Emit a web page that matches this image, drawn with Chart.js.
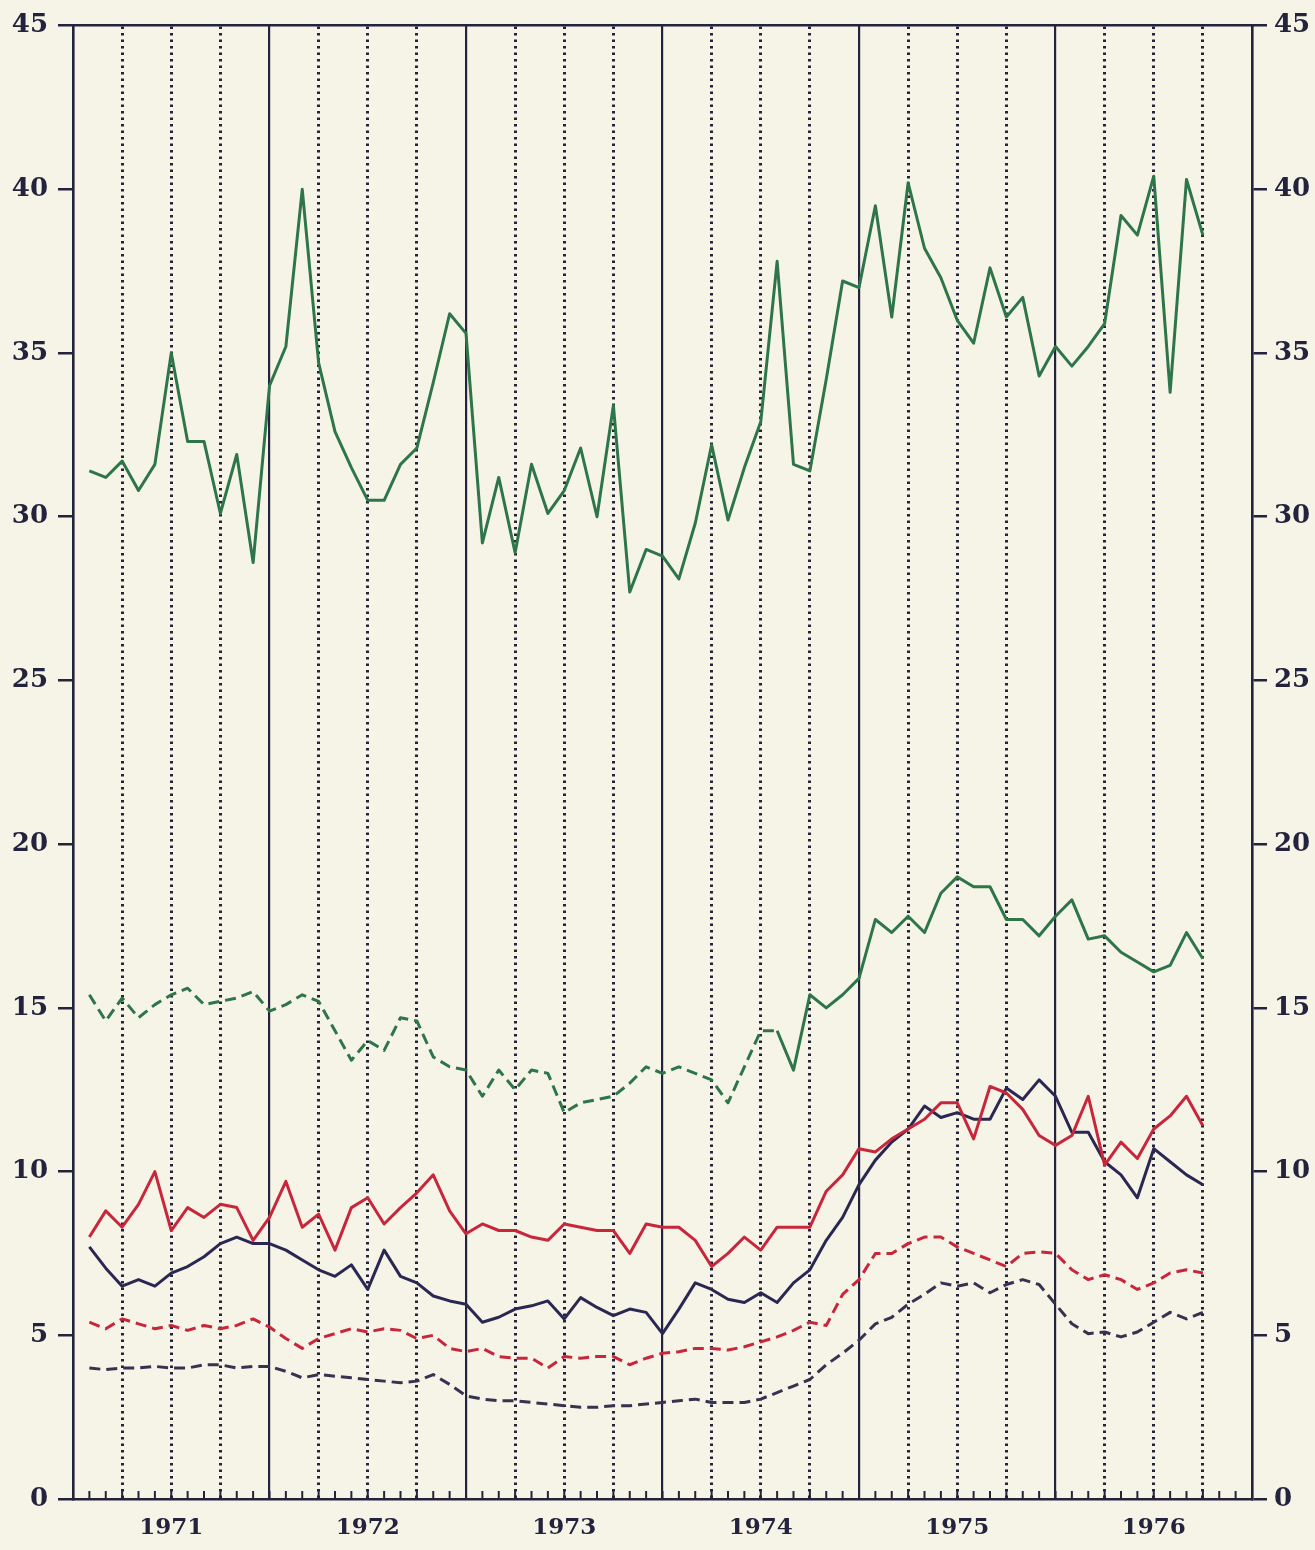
<!DOCTYPE html>
<html>
<head>
<meta charset="utf-8">
<script src="https://cdn.jsdelivr.net/npm/chart.js@4.4.1/dist/chart.umd.min.js"></script>
<style>
  body { margin: 0; background: #f6f4e7; }
  canvas { display: block; }
</style>
</head>
<body>
<canvas id="myChart" width="1315" height="1550"></canvas>
<script>
// month index 1..69 = end of Jan 1971 .. end of Sep 1976
const years = ['1971', '1972', '1973', '1974', '1975', '1976'];
const yTicks = [0, 5, 10, 15, 20, 25, 30, 35, 40, 45];

const greenSolid = [31.4, 31.2, 31.7, 30.8, 31.6, 35.0, 32.3, 32.3, 30.1, 31.9,
  28.6, 34.0, 35.2, 40.0, 34.7, 32.6, 31.5, 30.5, 30.5, 31.6,
  32.1, 34.1, 36.2, 35.6, 29.2, 31.2, 28.9, 31.6, 30.1, 30.8,
  32.1, 30.0, 33.4, 27.7, 29.0, 28.8, 28.1, 29.8, 32.2, 29.9,
  31.5, 32.9, 37.8, 31.6, 31.4, 34.2, 37.2, 37.0, 39.5, 36.1,
  40.2, 38.2, 37.3, 36.0, 35.3, 37.6, 36.1, 36.7, 34.3, 35.2,
  34.6, 35.2, 35.9, 39.2, 38.6, 40.4, 33.8, 40.3, 38.6];

const greenDashed = [15.4, 14.6, 15.3, 14.7, 15.1, 15.4, 15.6, 15.1, 15.2, 15.3,
  15.5, 14.9, 15.1, 15.4, 15.2, 14.3, 13.4, 14.0, 13.7, 14.7,
  14.6, 13.5, 13.2, 13.1, 12.3, 13.1, 12.5, 13.1, 13.0, 11.8,
  12.1, 12.2, 12.3, 12.7, 13.2, 13.0, 13.2, 13.0, 12.8, 12.1,
  13.2, 14.3, 14.3, 13.1, 15.4, 15.0, 15.4, 15.9, 17.7, 17.3,
  17.8, 17.3, 18.5, 19.0, 18.7, 18.7, 17.7, 17.7, 17.2, 17.8,
  18.3, 17.1, 17.2, 16.7, 16.4, 16.1, 16.3, 17.3, 16.5];

const redSolid = [8.0, 8.8, 8.3, 9.0, 10.0, 8.2, 8.9, 8.6, 9.0, 8.9,
  7.9, 8.6, 9.7, 8.3, 8.7, 7.6, 8.9, 9.2, 8.4, 8.9,
  9.35, 9.9, 8.8, 8.1, 8.4, 8.2, 8.2, 8.0, 7.9, 8.4,
  8.3, 8.2, 8.2, 7.5, 8.4, 8.3, 8.3, 7.9, 7.1, 7.5,
  8.0, 7.6, 8.3, 8.3, 8.3, 9.4, 9.9, 10.7, 10.6, 11.0,
  11.3, 11.6, 12.1, 12.1, 11.0, 12.6, 12.4, 11.9, 11.1, 10.8,
  11.1, 12.3, 10.2, 10.9, 10.4, 11.3, 11.7, 12.3, 11.4];

const navySolid = [7.7, 7.05, 6.5, 6.7, 6.5, 6.9, 7.1, 7.4, 7.8, 8.0,
  7.8, 7.8, 7.6, 7.3, 7.0, 6.8, 7.15, 6.4, 7.6, 6.8,
  6.6, 6.2, 6.05, 5.95, 5.4, 5.55, 5.8, 5.9, 6.05, 5.5,
  6.15, 5.85, 5.6, 5.8, 5.7, 5.05, 5.8, 6.6, 6.4, 6.1,
  6.0, 6.3, 6.0, 6.6, 7.0, 7.9, 8.6, 9.6, 10.35, 10.9,
  11.3, 12.0, 11.65, 11.8, 11.6, 11.6, 12.55, 12.2, 12.8, 12.3,
  11.2, 11.2, 10.3, 9.9, 9.2, 10.7, 10.3, 9.9, 9.6];

const redDashed = [5.4, 5.2, 5.5, 5.35, 5.2, 5.3, 5.15, 5.3, 5.2, 5.3,
  5.5, 5.25, 4.9, 4.6, 4.9, 5.05, 5.2, 5.1, 5.2, 5.15,
  4.9, 5.0, 4.6, 4.5, 4.6, 4.35, 4.3, 4.3, 4.0, 4.35,
  4.3, 4.35, 4.35, 4.1, 4.3, 4.45, 4.5, 4.6, 4.6, 4.55,
  4.65, 4.8, 4.95, 5.15, 5.4, 5.3, 6.25, 6.7, 7.5, 7.5,
  7.8, 8.0, 8.0, 7.7, 7.5, 7.3, 7.1, 7.5, 7.55, 7.5,
  7.0, 6.7, 6.85, 6.7, 6.4, 6.6, 6.9, 7.0, 6.9];

const navyDashed = [4.0, 3.95, 4.0, 4.0, 4.05, 4.0, 4.0, 4.1, 4.1, 4.0,
  4.05, 4.05, 3.9, 3.7, 3.8, 3.75, 3.7, 3.65, 3.6, 3.55,
  3.6, 3.8, 3.5, 3.15, 3.05, 3.0, 3.0, 2.95, 2.9, 2.85,
  2.8, 2.8, 2.85, 2.85, 2.9, 2.95, 3.0, 3.05, 2.95, 2.95,
  2.95, 3.05, 3.25, 3.45, 3.65, 4.1, 4.45, 4.85, 5.35, 5.55,
  5.95, 6.25, 6.6, 6.5, 6.6, 6.3, 6.55, 6.7, 6.55, 5.95,
  5.35, 5.05, 5.1, 4.95, 5.1, 5.4, 5.7, 5.5, 5.7];

const ink = '#24233d';
const clear = 'rgba(0,0,0,0)';
const labelFont = { family: 'DejaVu Serif', weight: 'bold', size: 26 };

function pts(arr) {
  return arr.map((v, i) => ({ x: i + 1, y: v }));
}

function line(data, color, dash) {
  return {
    data: pts(data),
    borderColor: color,
    borderWidth: 3,
    borderDash: dash || [],
    borderJoinStyle: 'round',
    pointRadius: 0,
    tension: 0,
    fill: false
  };
}

const greenLow = line(greenDashed, '#2e7549', []);
greenLow.segment = { borderDash: c => c.p0.parsed.x < 43 ? [11, 6] : undefined };

// small month ticks pointing up into the plot from the base line
const monthTicks = {
  id: 'monthTicks',
  afterDraw(chart) {
    const xs = chart.scales.x;
    const bottom = chart.chartArea.bottom;
    const c = chart.ctx;
    c.save();
    c.strokeStyle = ink;
    c.lineWidth = 2;
    for (let k = 1; k < 72; k++) {
      const px = xs.getPixelForValue(k);
      c.beginPath();
      c.moveTo(px, bottom);
      c.lineTo(px, bottom - 8);
      c.stroke();
    }
    c.restore();
  }
};

const yAxis = (pos) => ({
  type: 'linear',
  position: pos,
  min: 0,
  max: 45,
  afterBuildTicks: s => { s.ticks = yTicks.map(v => ({ value: v })); },
  afterFit: s => { s.width = pos === 'left' ? 73 : 63; },
  ticks: { color: ink, font: labelFont, padding: pos === 'left' ? 10 : 7 },
  grid: { drawOnChartArea: false, color: ink, tickLength: 15, tickWidth: 2.5, lineWidth: 2.5 },
  border: { color: ink, width: 2.5 }
});

new Chart(document.getElementById('myChart').getContext('2d'), {
  type: 'line',
  data: {
    datasets: [
      line(greenSolid, '#2e7549'),
      greenLow,
      line(redSolid, '#c8263b'),
      line(navySolid, '#2a2852'),
      line(redDashed, '#c8263b', [11, 6]),
      line(navyDashed, '#37324f', [11, 6])
    ]
  },
  options: {
    responsive: false,
    animation: false,
    layout: { padding: { top: 20 } },
    plugins: { legend: { display: false }, tooltip: { enabled: false } },
    scales: {
      x: {
        type: 'linear',
        position: 'bottom',
        min: 0,
        max: 72,
        afterFit: s => { s.height = 51; },
        ticks: {
          stepSize: 6,
          autoSkip: false,
          maxRotation: 0,
          padding: 15,
          color: ink,
          font: { family: 'DejaVu Serif', weight: 'bold', size: 23 },
          callback: v => v % 12 === 6 ? years[(v - 6) / 12] : ''
        },
        grid: {
          drawTicks: false,
          lineWidth: 2.2,
          color: c => c.tick && c.tick.value % 12 === 0 ? ink : clear
        },
        border: { color: ink, width: 2.5 }
      },
      xq: {
        type: 'linear',
        position: 'top',
        min: 0,
        max: 72,
        afterFit: s => { s.height = 0; },
        ticks: { stepSize: 3, autoSkip: false, display: false },
        grid: {
          drawTicks: false,
          lineWidth: 3,
          color: c => c.tick && c.tick.value % 12 !== 0 ? ink : clear
        },
        border: { color: ink, width: 2.5, dash: [2.5, 4] }
      },
      y: yAxis('left'),
      y2: yAxis('right')
    }
  },
  plugins: [monthTicks]
});
</script>
</body>
</html>
